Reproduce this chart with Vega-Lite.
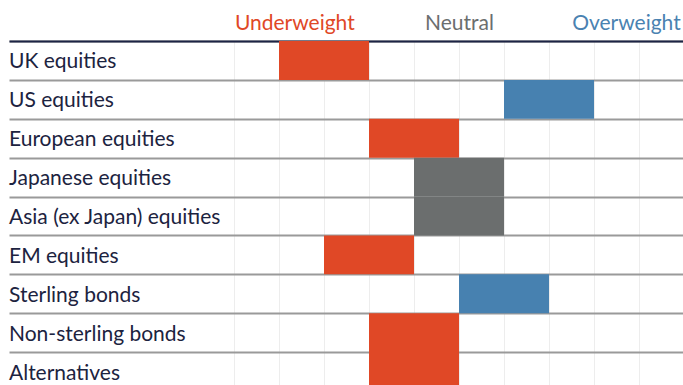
{
  "$schema": "https://vega.github.io/schema/vega-lite/v6.json",
  "autosize": "none",
  "width": 675,
  "height": 350,
  "padding": {"left": 9, "top": 41, "right": 0, "bottom": 0},
  "background": "white",
  "config": {"view": {"stroke": null}, "font": "Lato"},
  "datasets": {
    "rows": [
      {"asset": "UK equities"},
      {"asset": "US equities"},
      {"asset": "European equities"},
      {"asset": "Japanese equities"},
      {"asset": "Asia (ex Japan) equities"},
      {"asset": "EM equities"},
      {"asset": "Sterling bonds"},
      {"asset": "Non-sterling bonds"},
      {"asset": "Alternatives"}
    ],
    "bars": [
      {"asset": "UK equities", "start": -4, "end": -3, "stance": "Underweight"},
      {"asset": "UK equities", "start": -3, "end": -2, "stance": "Underweight"},
      {"asset": "US equities", "start": 1, "end": 3, "stance": "Overweight"},
      {"asset": "European equities", "start": -2, "end": -1, "stance": "Underweight"},
      {"asset": "European equities", "start": -1, "end": 0, "stance": "Underweight"},
      {"asset": "Japanese equities", "start": -1, "end": 1, "stance": "Neutral"},
      {"asset": "Asia (ex Japan) equities", "start": -1, "end": 1, "stance": "Neutral"},
      {"asset": "EM equities", "start": -3, "end": -1, "stance": "Underweight"},
      {"asset": "Sterling bonds", "start": 0, "end": 2, "stance": "Overweight"},
      {"asset": "Non-sterling bonds", "start": -2, "end": 0, "stance": "Underweight"},
      {"asset": "Alternatives", "start": -2, "end": 0, "stance": "Underweight"}
    ]
  },
  "layer": [
    {
      "data": {"name": "rows"},
      "mark": {"type": "text", "align": "left", "baseline": "middle", "dy": 2, "fontSize": 21, "color": "#1c2340", "font": "Lato"},
      "encoding": {
        "y": {
          "field": "asset", "type": "nominal",
          "scale": {"domain": ["UK equities", "US equities", "European equities", "Japanese equities", "Asia (ex Japan) equities", "EM equities", "Sterling bonds", "Non-sterling bonds", "Alternatives"], "paddingInner": 0, "paddingOuter": 0},
          "axis": {"grid": true, "tickBand": "extent", "gridColor": "#9a9a9a", "gridWidth": 2, "labels": false, "ticks": false, "domain": false, "title": null}
        },
        "x": {
          "datum": -10, "type": "quantitative",
          "scale": {"domain": [-10, 5], "nice": false, "zero": false},
          "axis": {"orient": "bottom", "values": [-5, -4, -3, -2, -1, 0, 1, 2, 3, 4], "grid": true, "gridColor": "#ededed", "gridWidth": 1, "labels": false, "ticks": false, "domain": false, "title": null}
        },
        "text": {"field": "asset"}
      }
    },
    {
      "data": {"name": "bars"},
      "mark": {"type": "rect"},
      "encoding": {
        "y": {"field": "asset", "type": "nominal"},
        "x": {
          "field": "start", "type": "quantitative",
          "axis": {"orient": "top", "values": [-3.66, 0, 3.71], "labelExpr": "datum.value < -1 ? 'Underweight' : datum.value > 1 ? 'Overweight' : 'Neutral'", "labelFontSize": 21, "labelFont": "Lato", "labelFontWeight": "normal", "labelBaseline": "alphabetic", "labelPadding": 12, "ticks": false, "tickSize": 0, "grid": false, "domain": true, "domainColor": "#1d2445", "domainWidth": 2, "title": null, "labelAlign": "center",
            "labelColor": {"condition": [{"test": "datum.value < -1", "value": "#e04826"}, {"test": "datum.value > 1", "value": "#4a82b1"}], "value": "#6b6e6e"}}
        },
        "x2": {"field": "end"},
        "color": {
          "field": "stance", "type": "nominal",
          "scale": {"domain": ["Underweight", "Neutral", "Overweight"], "range": ["#e04826", "#6b6e6e", "#4781b0"]},
          "legend": null
        }
      }
    }
  ],
  "resolve": {"axis": {"x": "independent"}}
}
